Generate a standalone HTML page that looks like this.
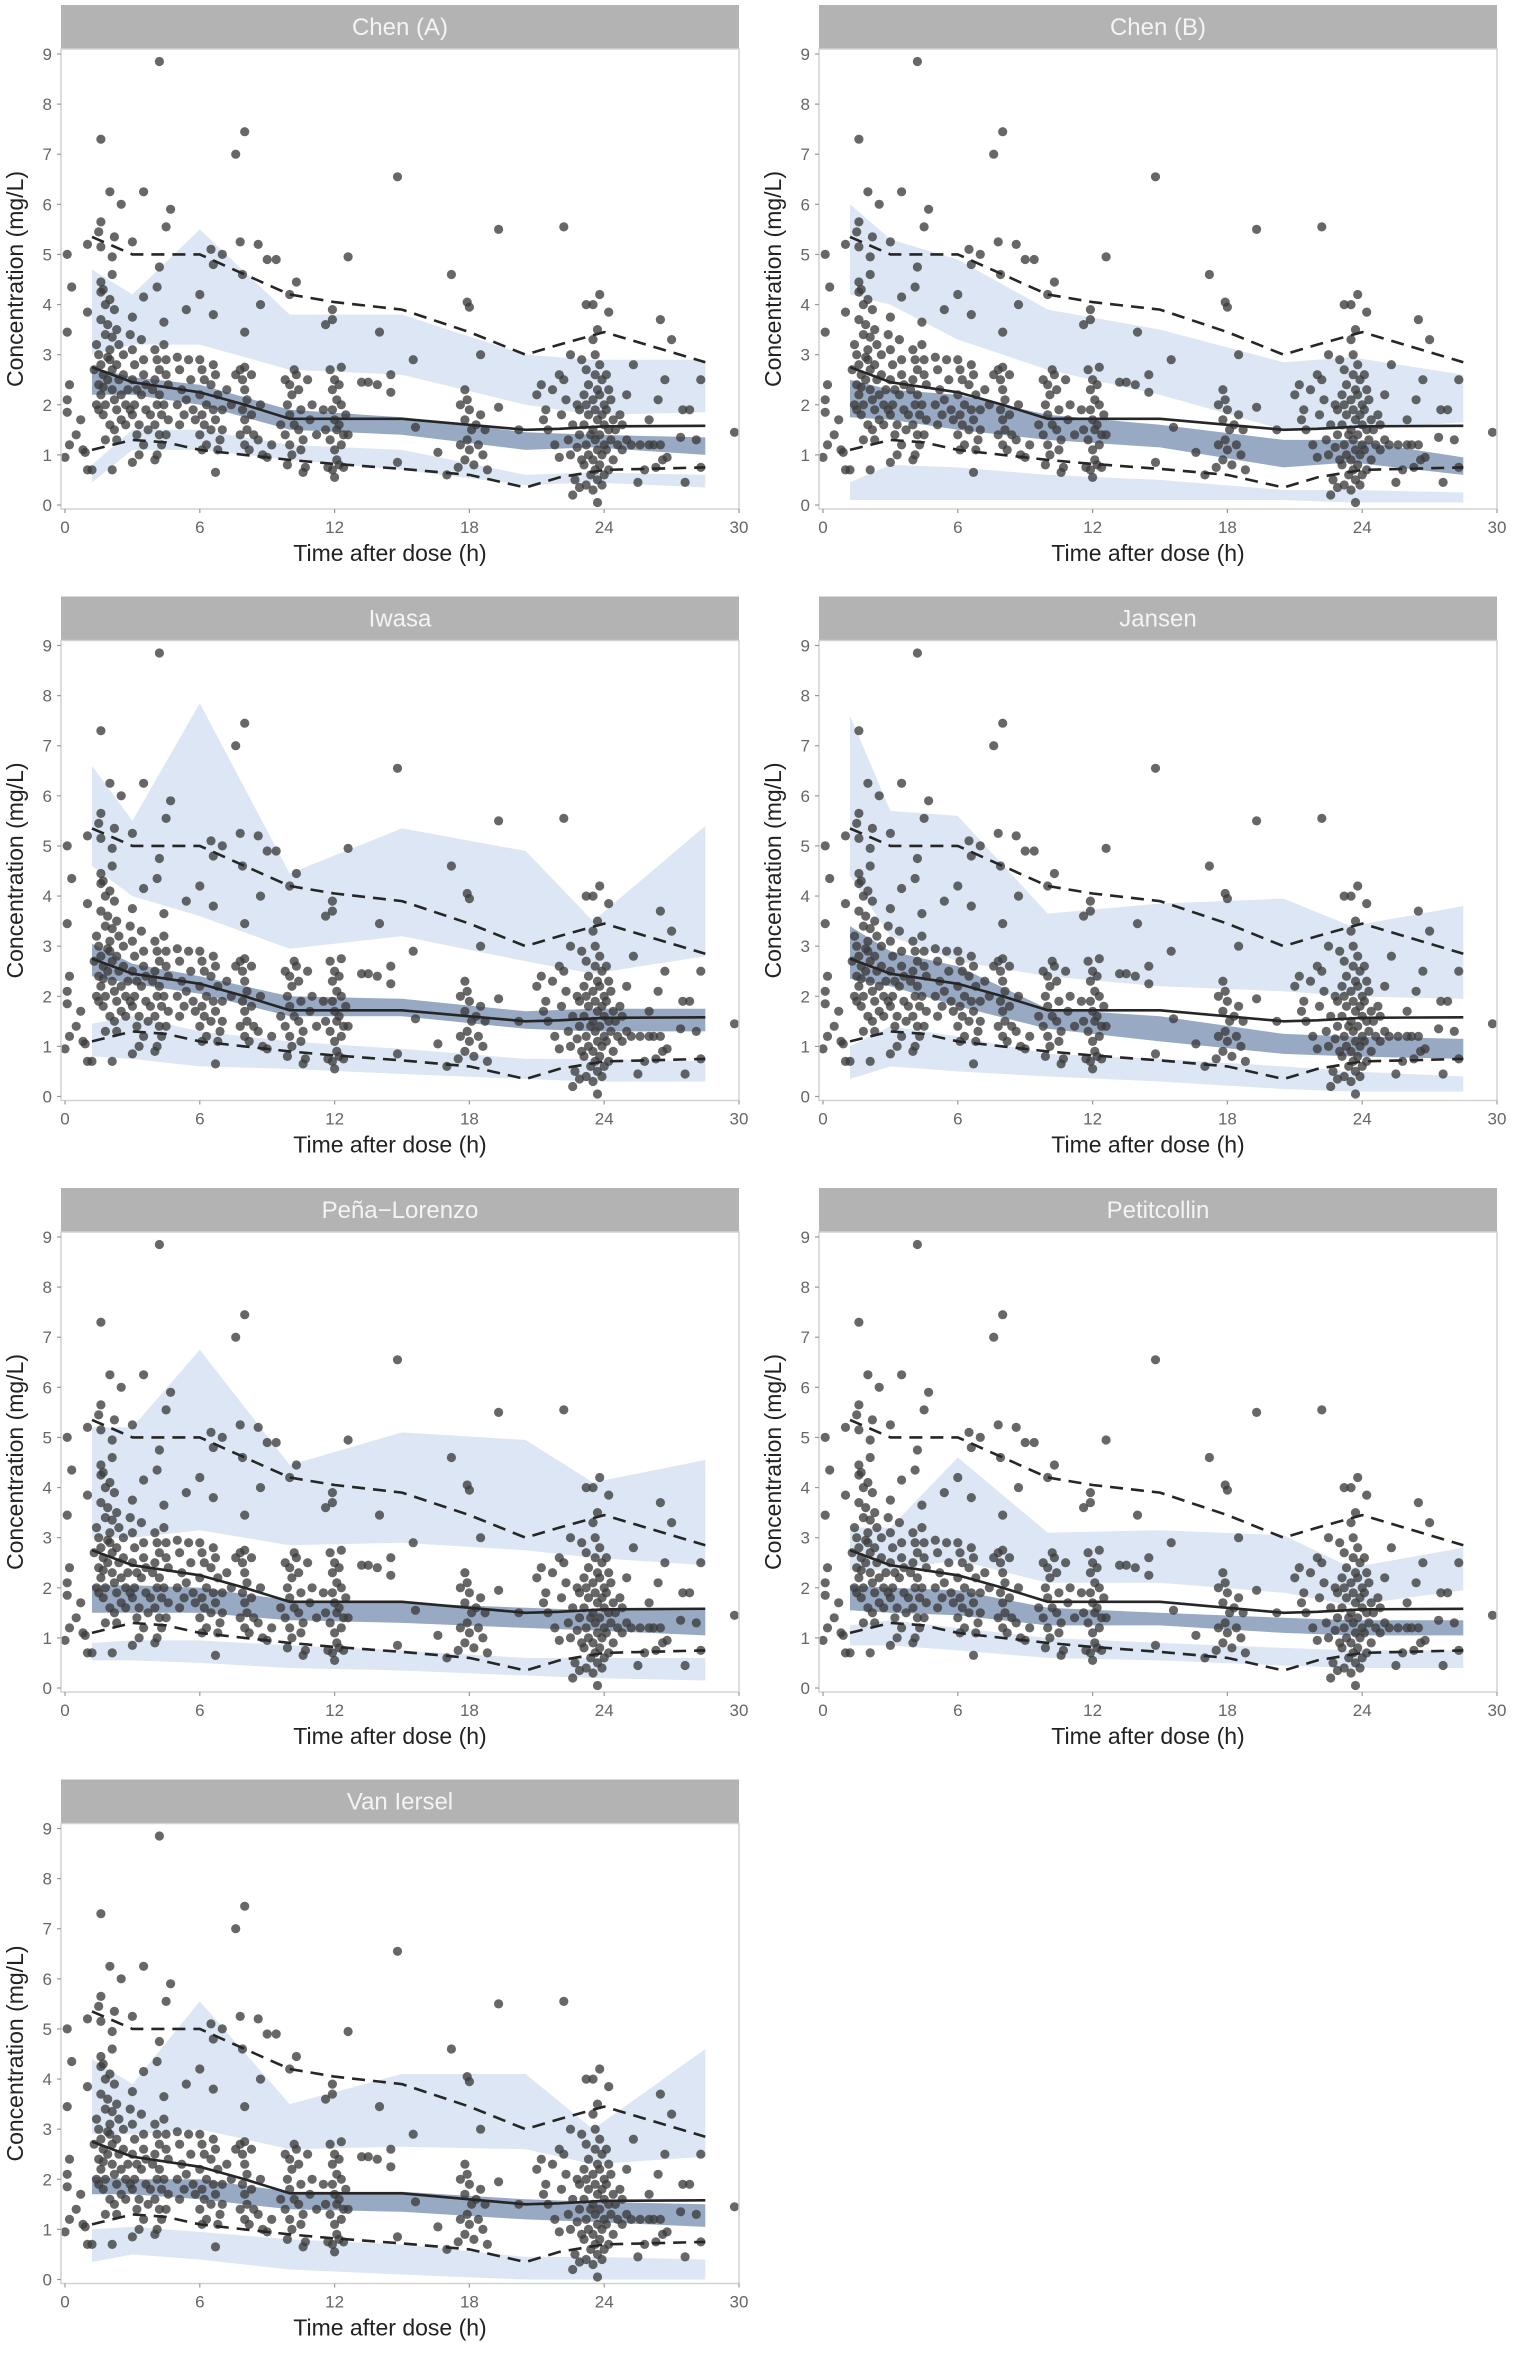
<!DOCTYPE html>
<html><head><meta charset="utf-8">
<style>
html,body{margin:0;padding:0;background:#fff;}
svg{display:block;font-family:"Liberation Sans",Arial,sans-serif;}
</style></head>
<body>
<svg id="chart" width="1525" height="2362" viewBox="0 0 1525 2362" xmlns="http://www.w3.org/2000/svg"></svg>
<script>
// ---- data ----
const panelNames = ["Chen (A)","Chen (B)","Iwasa","Jansen","Peña\u2212Lorenzo","Petitcollin","Van Iersel"];
const binTimes = [1.2, 3, 6, 10, 15, 20.5, 23.5, 28.5];
const upperLo = [
 [3.0,3.2,3.2,2.7,2.6,2.0,1.8,1.85],
 [4.2,4.0,3.3,2.7,2.2,1.5,1.5,1.65],
 [4.6,4.0,3.6,2.95,3.2,2.7,2.45,2.8],
 [4.4,3.2,2.7,2.4,2.2,2.1,2.0,1.95],
 [3.0,3.0,3.15,2.85,2.9,2.75,2.6,2.45],
 [2.35,2.35,2.55,2.1,2.1,1.9,1.65,1.95],
 [2.9,2.9,3.0,2.6,2.65,2.6,2.3,2.45]];
const upperHi = [
 [4.7,4.2,5.5,3.8,3.8,3.0,2.9,2.9],
 [6.0,5.3,4.9,3.9,3.5,2.85,2.95,2.6],
 [6.6,5.5,7.85,4.45,5.35,4.9,3.5,5.4],
 [7.6,5.7,5.6,3.65,3.85,3.95,3.4,3.8],
 [5.2,5.2,6.75,4.45,5.1,4.95,4.1,4.55],
 [3.2,3.2,4.6,3.1,3.15,3.05,2.4,2.8],
 [4.4,3.9,5.55,3.5,4.1,4.1,3.0,4.6]];
const medLo = [
 [2.2,2.2,2.0,1.5,1.4,1.1,1.15,1.0],
 [1.75,1.7,1.5,1.3,1.15,0.75,0.85,0.6],
 [2.4,2.25,2.05,1.6,1.6,1.35,1.3,1.3],
 [2.35,2.2,1.8,1.35,1.1,0.85,0.8,0.75],
 [1.5,1.5,1.5,1.35,1.3,1.2,1.15,1.05],
 [1.55,1.5,1.45,1.25,1.25,1.1,1.05,1.05],
 [1.7,1.7,1.6,1.4,1.35,1.2,1.15,1.05]];
const medHi = [
 [2.75,2.55,2.4,1.9,1.75,1.45,1.4,1.35],
 [2.5,2.3,2.2,1.8,1.6,1.3,1.3,0.95],
 [3.05,2.65,2.4,2.0,1.95,1.7,1.75,1.75],
 [3.4,2.9,2.6,1.75,1.6,1.25,1.2,1.15],
 [2.05,2.05,2.0,1.75,1.7,1.6,1.55,1.55],
 [2.05,2.0,1.95,1.6,1.5,1.4,1.35,1.35],
 [2.05,2.0,2.0,1.75,1.75,1.6,1.55,1.5]];
const lowerLo = [
 [0.45,1.1,1.1,0.9,0.7,0.4,0.45,0.35],
 [0.1,0.1,0.1,0.1,0.1,0.1,0.05,0.05],
 [0.8,0.75,0.6,0.55,0.45,0.35,0.3,0.3],
 [0.35,0.6,0.5,0.4,0.3,0.15,0.1,0.1],
 [0.55,0.55,0.5,0.4,0.35,0.25,0.2,0.15],
 [0.85,0.85,0.75,0.6,0.55,0.45,0.4,0.4],
 [0.35,0.5,0.4,0.2,0.1,0.0,0.0,0.0]];
const lowerHi = [
 [0.8,1.5,1.5,1.2,1.1,0.6,0.65,0.6],
 [0.45,0.8,0.75,0.6,0.5,0.3,0.3,0.25],
 [1.45,1.6,1.3,1.1,0.95,0.75,0.75,0.7],
 [1.0,1.4,1.2,0.85,0.75,0.6,0.5,0.4],
 [0.9,0.95,0.95,0.85,0.75,0.6,0.6,0.6],
 [1.25,1.35,1.2,1.0,0.9,0.8,0.75,0.75],
 [1.0,1.05,0.95,0.8,0.7,0.45,0.45,0.4]];
const obsLineTimes = [1.2,3,4.5,6,8,10,12,15,18,20.5,22,24,28.5];
const obsMedian = [2.75,2.45,2.35,2.25,2.0,1.72,1.72,1.72,1.6,1.5,1.52,1.57,1.58];
const obsP95 = [5.35,5.0,5.0,5.0,4.6,4.2,4.05,3.9,3.45,3.0,3.2,3.45,2.85];
const obsP05 = [1.1,1.3,1.25,1.1,1.0,0.9,0.82,0.72,0.6,0.35,0.55,0.7,0.75];
const xTicks = [0,6,12,18,24,30];
const yTicks = [0,1,2,3,4,5,6,7,8,9];
const observations = [
[4.2,8.85],[1.6,7.3],[7.6,7.0],[8.0,7.45],[14.8,6.55],[2.0,6.25],[3.5,6.25],[2.5,6.0],[4.7,5.9],[1.6,5.65],[4.5,5.55],[19.3,5.5],[22.2,5.55],[1.5,5.45],[2.2,5.35],[1.0,5.2],[3.0,5.25],[1.6,5.15],[7.8,5.25],[8.6,5.2],[0.1,5.0],[6.5,5.1],[7.0,5.0],[12.6,4.95],[9.0,4.9],[9.4,4.9],[2.1,4.95],[6.6,4.8],[4.2,4.75],[2.1,4.6],[7.9,4.6],[17.2,4.6],[10.3,4.45],[1.6,4.45],[0.3,4.35],[4.1,4.35],[1.6,4.25],[6.0,4.2],[10.0,4.2],[3.5,4.15],[23.8,4.2],[8.7,4.0],[5.4,3.9],[1.0,3.85],[17.9,4.05],[18.0,3.95],[23.2,4.0],[23.5,4.0],[24.2,3.85],[6.6,3.8],[3.0,3.75],[11.9,3.9],[11.9,3.7],[11.6,3.6],[26.5,3.7],[4.4,3.65],[0.1,3.45],[8.0,3.45],[14.0,3.45],[23.7,3.5],[27.0,3.3],[15.5,2.9],[18.5,3.0],[22.5,3.0],[12.3,2.75],[29.8,1.45],[25.3,2.8],[28.3,2.5],[26.7,2.5],[14.5,2.6],[14.5,2.25],[13.5,2.45],[13.2,2.45],[13.9,2.4],[19.3,1.95],[15.6,1.55],[16.6,1.05],[17.0,0.6],[20.2,1.5],[22.0,0.95],[27.6,0.45],[25.5,0.45],[26.5,1.2],[26.8,0.95],[28.1,1.3],[27.8,1.9],[27.4,1.35],[26.4,2.1],[25.0,2.2],[26.0,1.2],[24.8,1.6],[26.0,1.7],[22.6,0.2],[23.7,0.05],[14.8,0.85],[6.7,0.65],[2.1,0.7],[1.2,0.7],[1.0,0.7],[3.0,0.85],[4.0,0.9],[10.6,0.65],[12.0,0.55],[0.0,0.95],[0.2,1.2],[0.5,1.4],[0.1,2.1],[0.2,2.4],[0.1,1.85],[0.9,1.05],[0.7,1.7],[0.8,1.1],
[1.4,3.2],[1.5,3.0],[1.6,2.8],[1.7,2.6],[1.5,2.4],[1.6,2.2],[1.8,2.0],[1.7,1.8],[1.5,1.9],[1.9,3.6],[1.8,3.4],[2.0,3.1],[2.0,2.9],[2.1,2.7],[1.9,2.5],[2.1,2.3],[2.2,2.1],[2.0,1.6],[2.2,1.5],[1.8,4.0],[2.2,3.9],[2.3,3.5],[2.4,3.2],[2.3,2.8],[2.4,2.5],[2.5,2.2],[2.3,1.9],[2.5,1.7],[1.6,3.7],[1.7,4.3],[2.0,4.1],[1.3,2.7],[1.4,2.0],[2.6,3.0],[2.6,2.6],[2.7,2.0],[2.7,1.6],[1.8,1.3],[2.3,1.3],[1.9,2.95],[2.1,3.35],[1.7,2.35],
[2.9,3.4],[3.0,3.1],[3.1,2.8],[3.0,2.5],[3.2,2.3],[3.1,2.0],[3.0,1.8],[3.3,1.6],[3.2,1.4],[3.4,3.3],[3.5,2.9],[3.5,2.6],[3.4,2.2],[3.6,1.9],[3.5,1.2],[3.3,1.0],[2.9,1.9],[2.8,2.3],[3.6,2.4],[3.7,1.5],
[4.0,3.1],[4.1,2.9],[4.2,2.7],[4.0,2.5],[4.2,2.2],[4.1,2.0],[4.3,1.8],[4.0,1.6],[4.2,1.4],[4.3,1.2],[4.1,1.0],[4.4,3.2],[4.5,2.9],[4.5,2.6],[4.6,2.4],[4.4,2.0],[4.6,1.7],[4.5,1.4],[3.9,2.3],[3.8,1.8],
[5.0,2.95],[5.1,2.7],[5.2,2.3],[5.0,2.0],[5.3,1.8],[5.1,1.6],[5.4,2.1],[5.5,2.9],[5.6,2.5],[5.7,1.9],
[6.0,2.9],[6.1,2.7],[6.2,2.5],[6.0,2.2],[6.3,2.0],[6.1,1.8],[6.2,1.6],[6.0,1.4],[6.3,1.2],[6.1,1.1],[6.6,2.8],[6.7,2.6],[6.5,2.4],[6.8,2.2],[6.6,1.9],[6.7,1.7],[6.5,1.5],[6.9,1.3],[6.8,1.1],[7.0,1.9],[7.2,2.3],[7.4,2.0],[7.0,1.5],[5.8,1.7],
[7.8,2.7],[8.0,2.75],[7.9,2.5],[8.0,2.3],[8.1,2.1],[7.9,1.9],[8.0,1.7],[8.1,1.5],[7.8,1.4],[8.0,1.2],[8.2,1.1],[8.3,2.6],[8.3,1.8],[8.4,1.4],[8.6,1.3],[8.8,1.0],[9.0,0.95],[9.2,1.2],[8.7,2.0],[7.6,2.6],
[9.8,2.5],[10.0,2.4],[10.1,2.2],[9.9,2.0],[10.0,1.8],[10.2,1.6],[9.8,1.4],[10.0,1.2],[10.1,1.0],[9.9,0.8],[10.3,2.6],[10.4,2.3],[10.5,1.9],[10.4,1.5],[10.6,1.3],[10.5,1.1],[10.7,0.75],[10.8,2.5],[11.0,2.0],[11.2,1.4],[9.6,1.6],[10.2,2.7],[10.9,1.7],
[11.8,2.7],[12.0,2.5],[11.9,2.3],[12.1,2.1],[11.9,1.9],[12.0,1.7],[12.1,1.5],[11.8,1.3],[12.0,1.1],[12.1,0.9],[11.9,0.7],[12.2,2.4],[12.3,2.0],[12.2,1.6],[12.4,1.4],[12.3,1.2],[12.2,0.8],[11.6,1.5],[11.5,1.9],[12.5,1.8],[12.6,1.4],[11.7,0.75],[12.4,0.75],
[17.8,2.3],[17.9,2.1],[18.0,1.9],[17.8,1.7],[18.1,1.5],[17.9,1.3],[18.0,1.1],[17.8,0.9],[18.2,0.8],[18.3,1.6],[18.5,1.8],[18.4,1.2],[18.6,1.0],[18.8,0.7],[17.6,1.2],[17.6,2.0],[18.7,1.5],[17.5,0.75],
[21.0,2.2],[21.2,2.4],[21.4,1.9],[21.5,1.5],[21.3,1.7],[21.7,2.3],[21.8,1.2],[22.0,2.6],[22.1,1.8],[22.2,2.5],[22.3,2.1],[22.4,1.3],[22.5,1.0],[22.6,1.6],[22.8,2.0],[22.7,0.5],[22.9,0.35],[22.8,1.15],
[23.0,2.9],[23.2,2.7],[23.3,2.4],[23.1,2.2],[23.2,2.0],[23.3,1.8],[23.1,1.6],[23.4,1.4],[23.2,1.2],[23.3,1.0],[23.1,0.8],[23.4,0.6],[23.2,0.4],[23.5,3.3],[23.6,3.0],[23.6,2.6],[23.7,2.3],[23.5,2.1],[23.6,1.9],[23.7,1.7],[23.5,1.5],[23.6,1.3],[23.7,1.1],[23.5,0.9],[23.6,0.7],[23.7,0.5],[23.5,0.3],[23.8,2.8],[23.9,2.5],[23.8,2.2],[24.0,2.0],[23.9,1.8],[24.0,1.6],[23.8,1.4],[24.0,1.2],[23.9,1.0],[23.8,0.8],[24.0,0.6],[23.9,0.4],[24.1,2.6],[24.2,2.3],[24.1,1.9],[24.2,1.5],[24.1,1.1],[24.2,0.7],[24.3,2.1],[24.4,1.7],[24.3,1.3],[24.4,0.9],[24.5,1.5],[24.6,1.2],[24.7,1.8],[22.9,1.9],[22.9,1.4],[23.0,0.9],[24.8,1.1],[25.0,1.3],
[25.2,1.2],[25.6,1.2],[26.2,1.2],[26.6,0.9],[27.5,1.9],[28.3,0.75],[25.8,0.7],[26.3,0.75]];

// ---- layout ----
const NS = "http://www.w3.org/2000/svg";
const svg = document.getElementById('chart');
const colLeft = [61, 819], panelW = 678, rowStep = 591.5;
function mk(tag, attrs, parent) {
  const e = document.createElementNS(NS, tag);
  for (const k in attrs) e.setAttribute(k, attrs[k]);
  parent.appendChild(e);
  return e;
}
panelNames.forEach((name, p) => {
  const L = colLeft[p % 2], R = L + panelW;
  const top = 5 + rowStep * Math.floor(p / 2);
  const plotTop = top + 44, plotBot = top + 504;
  const y0 = top + 500, y9 = top + 49;
  const xS = t => L + 4 + t * (panelW - 4) / 30;
  const yS = c => y0 - c * (y0 - y9) / 9;
  const g = mk('g', {}, svg);
  
  
  const clipId = 'clip' + p;
  const cp = mk('clipPath', {id: clipId}, g);
  mk('rect', {x: L, y: plotTop, width: panelW, height: plotBot - plotTop}, cp);
  // strip
  const strip = mk('rect', {x: L, y: top, width: panelW, height: 44, fill: '#b3b3b3'}, g);
  
  
  const st = mk('text', {x: L + panelW / 2, y: top + 30, 'text-anchor': 'middle', 'font-size': 24, fill: '#f4f4f4'}, g);
  st.textContent = name;
  
  
  const inner = mk('g', {'clip-path': 'url(#' + clipId + ')'}, g);
  function band(lo, hi, fill, nm) {
    let d = 'M';
    binTimes.forEach((t, i) => { d += (i ? 'L' : '') + xS(t).toFixed(1) + ',' + yS(hi[i]).toFixed(1); });
    for (let i = binTimes.length - 1; i >= 0; i--) d += 'L' + xS(binTimes[i]).toFixed(1) + ',' + yS(lo[i]).toFixed(1);
    const el = mk('path', {d: d + 'Z', fill: fill}, inner);
    
    
  }
  band(upperLo[p], upperHi[p], '#dce6f4', 'upper-percentile-ci-band');
  band(lowerLo[p], lowerHi[p], '#dce6f4', 'lower-percentile-ci-band');
  band(medLo[p], medHi[p], '#97a9c3', 'median-ci-band');
  observations.forEach(o => {
    const c = mk('circle', {cx: xS(o[0]).toFixed(1), cy: yS(o[1]).toFixed(1), r: 4.6, fill: '#3c3c3c', 'fill-opacity': 0.78}, inner);
    
    
  });
  function line(vals, dash, nm) {
    const pts = obsLineTimes.map((t, i) => xS(t).toFixed(1) + ',' + yS(vals[i]).toFixed(1)).join(' ');
    const a = {points: pts, fill: 'none', stroke: '#262626', 'stroke-width': 2.6};
    if (dash) a['stroke-dasharray'] = '13,8';
    const el = mk('polyline', a, inner);
    
    
  }
  line(obsMedian, false, 'observed-median-line');
  line(obsP95, true, 'observed-95th-line');
  line(obsP05, true, 'observed-5th-line');
  const frame = mk('rect', {x: L, y: plotTop, width: panelW, height: plotBot - plotTop, fill: 'none', stroke: '#d2d2d2', 'stroke-width': 1.5}, g);
  
  
  yTicks.forEach(v => {
    mk('line', {x1: L - 4, x2: L, y1: yS(v), y2: yS(v), stroke: '#999', 'stroke-width': 1.2}, g);
    const t = mk('text', {x: L - 9, y: yS(v) + 6, 'text-anchor': 'end', 'font-size': 17, fill: '#666'}, g);
    t.textContent = v;
    
    
  });
  xTicks.forEach(v => {
    mk('line', {x1: xS(v), x2: xS(v), y1: plotBot, y2: plotBot + 4, stroke: '#999', 'stroke-width': 1.2}, g);
    const t = mk('text', {x: xS(v), y: plotBot + 24, 'text-anchor': 'middle', 'font-size': 17, fill: '#666'}, g);
    t.textContent = v;
    
    
  });
  const xt = mk('text', {x: L + panelW / 2 - 10, y: plotBot + 52, 'text-anchor': 'middle', 'font-size': 23, fill: '#222'}, g);
  xt.textContent = 'Time after dose (h)';
  
  
  const cy = (plotTop + plotBot) / 2;
  const yt = mk('text', {x: L - 38, y: cy, 'text-anchor': 'middle', 'font-size': 23, fill: '#222', transform: 'rotate(-90 ' + (L - 38) + ' ' + cy + ')'}, g);
  yt.textContent = 'Concentration (mg/L)';
  
  
});
</script>
</body></html>
